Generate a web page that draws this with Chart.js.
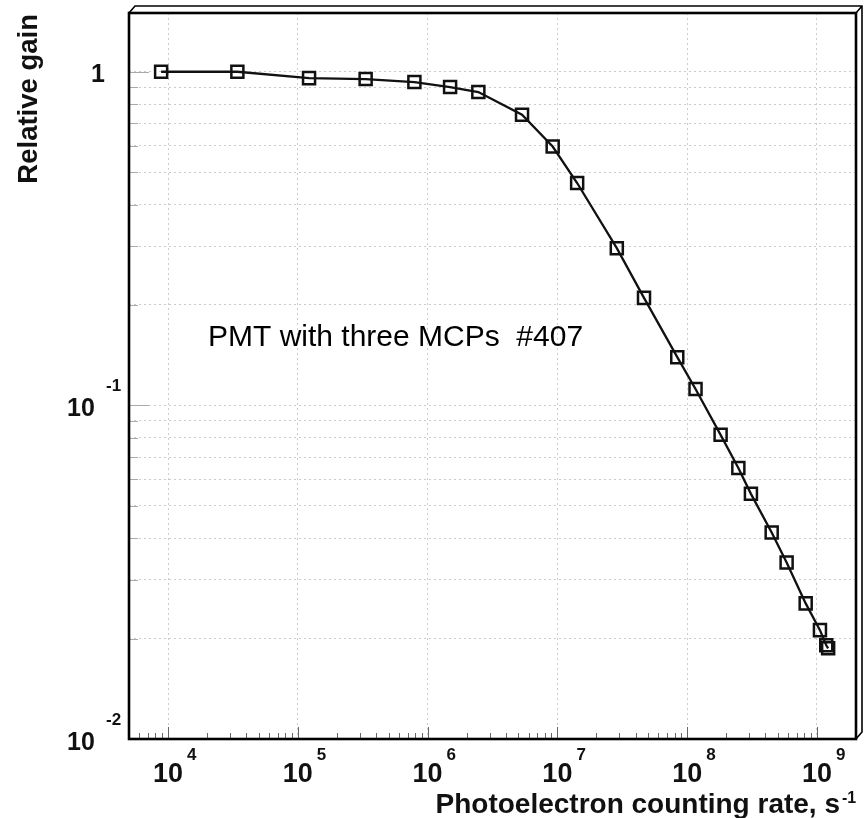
<!DOCTYPE html>
<html><head><meta charset="utf-8">
<style>html,body{margin:0;padding:0;background:#fff;}#wrap{width:868px;height:818px;}</style>
<script src="https://cdn.jsdelivr.net/npm/chart.js@4/dist/chart.umd.min.js"></script>
</head><body><div id="wrap"><canvas id="c" width="868" height="818"></canvas></div>
<script>
// ---- data ----
const rate = [8.84e3, 3.42e4, 1.22e5, 3.33e5, 7.91e5, 1.49e6, 2.46e6, 5.34e6, 9.20e6, 1.42e7, 2.87e7, 4.65e7, 8.39e7, 1.16e8, 1.81e8, 2.48e8, 3.10e8, 4.48e8, 5.84e8, 8.19e8, 1.055e9, 1.18e9, 1.22e9];
const gain = [1.00, 1.00, 0.957, 0.951, 0.931, 0.900, 0.869, 0.743, 0.597, 0.464, 0.296, 0.210, 0.1395, 0.112, 0.0816, 0.0649, 0.0543, 0.0416, 0.0338, 0.0255, 0.0212, 0.0191, 0.0187];
const xTickValues = [1e4, 1e5, 1e6, 1e7, 1e8, 1e9];
const xTickBase = ['10', '10', '10', '10', '10', '10'];
const xTickExp = ['4', '5', '6', '7', '8', '9'];
const yTickValues = [1, 0.1, 0.01];
const yTickBase = ['1', '10', '10'];
const yTickExp = ['', '-1', '-2'];
const xRange = [5.0e3, 2.0e9];
const yRange = [0.01, 1.5];
const xTitle = 'Photoelectron counting rate, s';
const xTitleExp = '-1';
const yTitle = 'Relative gain';
const noteText = 'PMT with three MCPs  #407';
const notePos = [2.03e4, 0.151];

// minor positions (multiples of each decade) for grid / ticks
function minorValues(lo, hi) {
  const out = [];
  for (let e = Math.floor(Math.log10(lo)); e <= Math.ceil(Math.log10(hi)); e++) {
    for (let m = 1; m <= 9; m++) {
      const v = m * Math.pow(10, e);
      if (v >= lo * 0.9999 && v <= hi * 1.0001) out.push(v);
    }
  }
  return out;
}
const yGridValues = minorValues(yRange[0], yRange[1]);
const xMinorValues = minorValues(xRange[0], xRange[1]);

const B = "'Liberation Sans', Arial, Helvetica, sans-serif";

const decor = {
  id: 'decor',
  beforeDatasetsDraw(chart) {
    const ctx = chart.ctx, a = chart.chartArea, xs = chart.scales.x, ys = chart.scales.y;
    ctx.save();
    ctx.strokeStyle = '#666'; ctx.lineWidth = 1;
    xMinorValues.forEach(v => {
      const px = Math.round(xs.getPixelForValue(v)) + 0.5;
      const major = Math.abs(Math.log10(v) - Math.round(Math.log10(v))) < 1e-6;
      ctx.beginPath(); ctx.moveTo(px, a.bottom); ctx.lineTo(px, a.bottom - (major ? 12 : 6)); ctx.stroke();
    });
    ctx.strokeStyle = '#aaa';
    yGridValues.forEach(v => {
      const py = Math.round(ys.getPixelForValue(v)) + 0.5;
      const major = Math.abs(Math.log10(v) - Math.round(Math.log10(v))) < 1e-6;
      ctx.beginPath(); ctx.moveTo(a.left, py); ctx.lineTo(a.left + (major ? 20 : 9), py); ctx.stroke();
    });
    ctx.restore();
  },
  afterDraw(chart) {
    const ctx = chart.ctx, a = chart.chartArea, xs = chart.scales.x, ys = chart.scales.y;
    ctx.save();
    // frame
    ctx.strokeStyle = '#000'; ctx.lineWidth = 2.6;
    ctx.strokeRect(a.left, a.top, a.right - a.left, a.bottom - a.top);
    ctx.lineWidth = 1.6;
    ctx.beginPath();
    ctx.moveTo(a.left, a.top); ctx.lineTo(a.left + 6, a.top - 7);
    ctx.lineTo(a.right + 6, a.top - 7); ctx.lineTo(a.right + 6, a.bottom - 7); ctx.lineTo(a.right, a.bottom);
    ctx.moveTo(a.right, a.top); ctx.lineTo(a.right + 6, a.top - 7);
    ctx.stroke();

    ctx.fillStyle = '#111';
    ctx.textBaseline = 'alphabetic';
    // x tick labels
    xTickValues.forEach((v, i) => {
      const px = xs.getPixelForValue(v);
      ctx.font = 'bold 27px ' + B; ctx.textAlign = 'center';
      ctx.fillText(xTickBase[i], px, a.bottom + 43);
      ctx.font = 'bold 17px ' + B; ctx.textAlign = 'left';
      ctx.fillText(xTickExp[i], px + 19, a.bottom + 21);
    });
    // y tick labels
    yTickValues.forEach((v, i) => {
      const py = ys.getPixelForValue(v);
      if (yTickExp[i] === '') {
        ctx.font = 'bold 25px ' + B; ctx.textAlign = 'center';
        ctx.fillText(yTickBase[i], 98, py + 10);
      } else {
        ctx.font = 'bold 25px ' + B; ctx.textAlign = 'center';
        ctx.fillText(yTickBase[i], 81, py + 10.5);
        ctx.font = 'bold 17px ' + B; ctx.textAlign = 'left';
        ctx.fillText(yTickExp[i], 106, py - 14);
      }
    });
    // axis titles
    ctx.font = 'bold 28px ' + B; ctx.textAlign = 'right';
    ctx.fillText(xTitle, 840, 813);
    ctx.font = 'bold 16px ' + B; ctx.textAlign = 'left';
    ctx.fillText(xTitleExp, 842, 803);
    ctx.save();
    ctx.translate(37, 14); ctx.rotate(-Math.PI / 2);
    ctx.font = 'bold 27.5px ' + B; ctx.textAlign = 'right';
    ctx.fillText(yTitle, 0, 0);
    ctx.restore();
    // annotation
    ctx.font = '30px ' + B; ctx.textAlign = 'left'; ctx.fillStyle = '#000';
    ctx.fillText(noteText, xs.getPixelForValue(notePos[0]), ys.getPixelForValue(notePos[1]));
    ctx.restore();
  }
};

new Chart(document.getElementById('c'), {
  type: 'scatter',
  data: {
    datasets: [{
      data: rate.map((r, i) => ({ x: r, y: gain[i] })),
      showLine: true,
      borderColor: '#111',
      borderWidth: 2.3,
      tension: 0,
      pointStyle: 'rect',
      pointRadius: 8.5,
      pointHoverRadius: 8.5,
      pointBorderWidth: 2.5,
      pointBorderColor: '#111',
      pointBackgroundColor: 'rgba(0,0,0,0)'
    }]
  },
  options: {
    responsive: false,
    animation: false,
    devicePixelRatio: 1,
    layout: { padding: { left: 129, right: 12, top: 13, bottom: 79 } },
    plugins: { legend: { display: false }, tooltip: { enabled: false } },
    scales: {
      x: {
        type: 'logarithmic', min: xRange[0], max: xRange[1],
        afterBuildTicks: ax => { ax.ticks = xTickValues.map(v => ({ value: v })); },
        ticks: { display: false },
        grid: { color: '#cccccc', lineWidth: 1, drawTicks: false },
        border: { display: false, dash: [2, 3] }
      },
      y: {
        type: 'logarithmic', min: yRange[0], max: yRange[1],
        afterBuildTicks: ax => { ax.ticks = yGridValues.map(v => ({ value: v })); },
        ticks: { display: false },
        grid: { color: '#cccccc', lineWidth: 1, drawTicks: false },
        border: { display: false, dash: [2, 3] }
      }
    }
  },
  plugins: [decor]
});
</script></body></html>
